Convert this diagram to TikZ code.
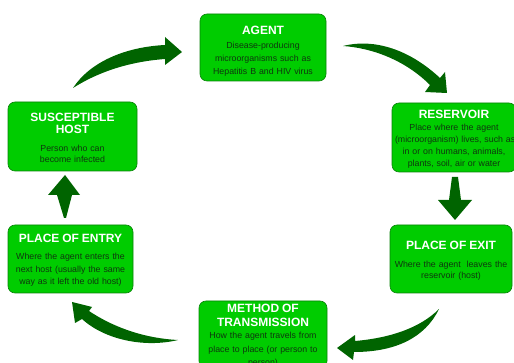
\documentclass[tikz,border=0pt]{standalone}
\usepackage{fontspec}
\setmainfont{Liberation Sans}
\usepackage{tikz}
\definecolor{boxfill}{RGB}{0, 204, 0}
\definecolor{boxline}{RGB}{10, 130, 10}
\definecolor{dark}{RGB}{0, 100, 0}
\definecolor{bodytext}{RGB}{15, 55, 15}
\newcommand*{\bh}{67}
\newcommand*{\stagetitle}[2][0pt]{{\rule{0pt}{#1}\fontsize{12}{12}\selectfont\bfseries\color{white}#2}}

\begin{document}
\begin{tikzpicture}[
   x=1pt, y=-1pt,
   stage/.style={rectangle, rounded corners=7pt, draw=boxline, fill=boxfill, line width=0.6pt,
                 text=bodytext, align=center, inner xsep=3pt, inner ysep=0pt,
                 minimum height=\bh, font=\fontsize{8.8}{12.5}\selectfont},
   bigarrow/.style={fill=dark, draw=none}
  ]

  \useasboundingbox (0, 0) rectangle (514, 363);

  % Stages of the chain
  \node (agent) at (263, 47.5) [stage, text width=120pt]
    {\stagetitle[15.5pt]{AGENT}\\[1.5pt] Disease-producing\\[0.5pt] microorganisms such as\\[0.5pt]
     Hepatitis B and HIV virus};

  \node (reservoir) at (454, 137.5) [stage, text width=118pt, minimum height=69]
    {\stagetitle[11pt]{RESERVOIR}\\[-0.5pt] Place where the agent\\[-0.5pt]
     \mbox{(microorganism) lives, such as}\\[-0.5pt]
     in or on humans, animals,\\[-0.5pt] plants, soil, air or water};

  \node (exit) at (451, 259) [stage, text width=116pt, minimum height=68]
    {\stagetitle[12.5pt]{PLACE OF EXIT}\\[5.5pt] Where the agent\ \ leaves the\\[-1.5pt] reservoir (host)};

  \node (method) at (263, 334.5) [stage, text width=122pt]
    {\stagetitle[11pt]{METHOD OF}\\[1.5pt] \stagetitle{TRANSMISSION}\\[-0.5pt] How the agent travels from\\[1pt]
     place to place (or person to\\[1pt] person)};

  \node (entry) at (70.5, 259) [stage, text width=119pt, minimum height=68]
    {\stagetitle[11pt]{PLACE OF ENTRY}\\[4.5pt] Where the agent enters the\\ next host (usually the same\\
     way as it left the old host)};

  \node (host) at (72.5, 136.5) [stage, text width=123pt, minimum height=69]
    {\stagetitle[11pt]{SUSCEPTIBLE}\\[-1pt] \stagetitle{HOST}\\[5.5pt] Person who can\\[-1.5pt] become infected};

  % Curved arrows
  \fill[bigarrow] (73, 88) .. controls (90, 62) and (125, 47) .. (165, 45) -- (165, 37) -- (182, 52)
    -- (165, 65) -- (165, 59) .. controls (125, 62) and (95, 74) .. (73, 88) -- cycle;

  \fill[bigarrow] (343, 46) .. controls (375, 38) and (410, 50) .. (440, 78) -- (445, 72) -- (447, 93)
    -- (425, 92) -- (430, 85) .. controls (405, 60) and (372, 48) .. (343, 46) -- cycle;

  \fill[bigarrow] (439, 309) .. controls (420, 328) and (390, 338) .. (355, 341) -- (355, 335) -- (337, 348)
    -- (353, 360) -- (354, 352) .. controls (395, 352) and (425, 338) .. (439, 309) -- cycle;

  \fill[bigarrow] (178, 340) .. controls (140, 338) and (110, 325) .. (89, 311) -- (92, 307) -- (72, 302)
    -- (75, 323) -- (82, 319) .. controls (105, 340) and (145, 348) .. (178, 340) -- cycle;

  % Straight arrows
  \fill[bigarrow] (452, 177) -- (458, 177) -- (461, 200) -- (472, 200) -- (455, 220) -- (438, 200)
    -- (449, 200) -- cycle;

  \fill[bigarrow] (65, 175) -- (80, 195) -- (72, 195) -- (66, 218) -- (64, 218) -- (57, 195)
    -- (48, 195) -- cycle;

\end{tikzpicture}
\end{document}
